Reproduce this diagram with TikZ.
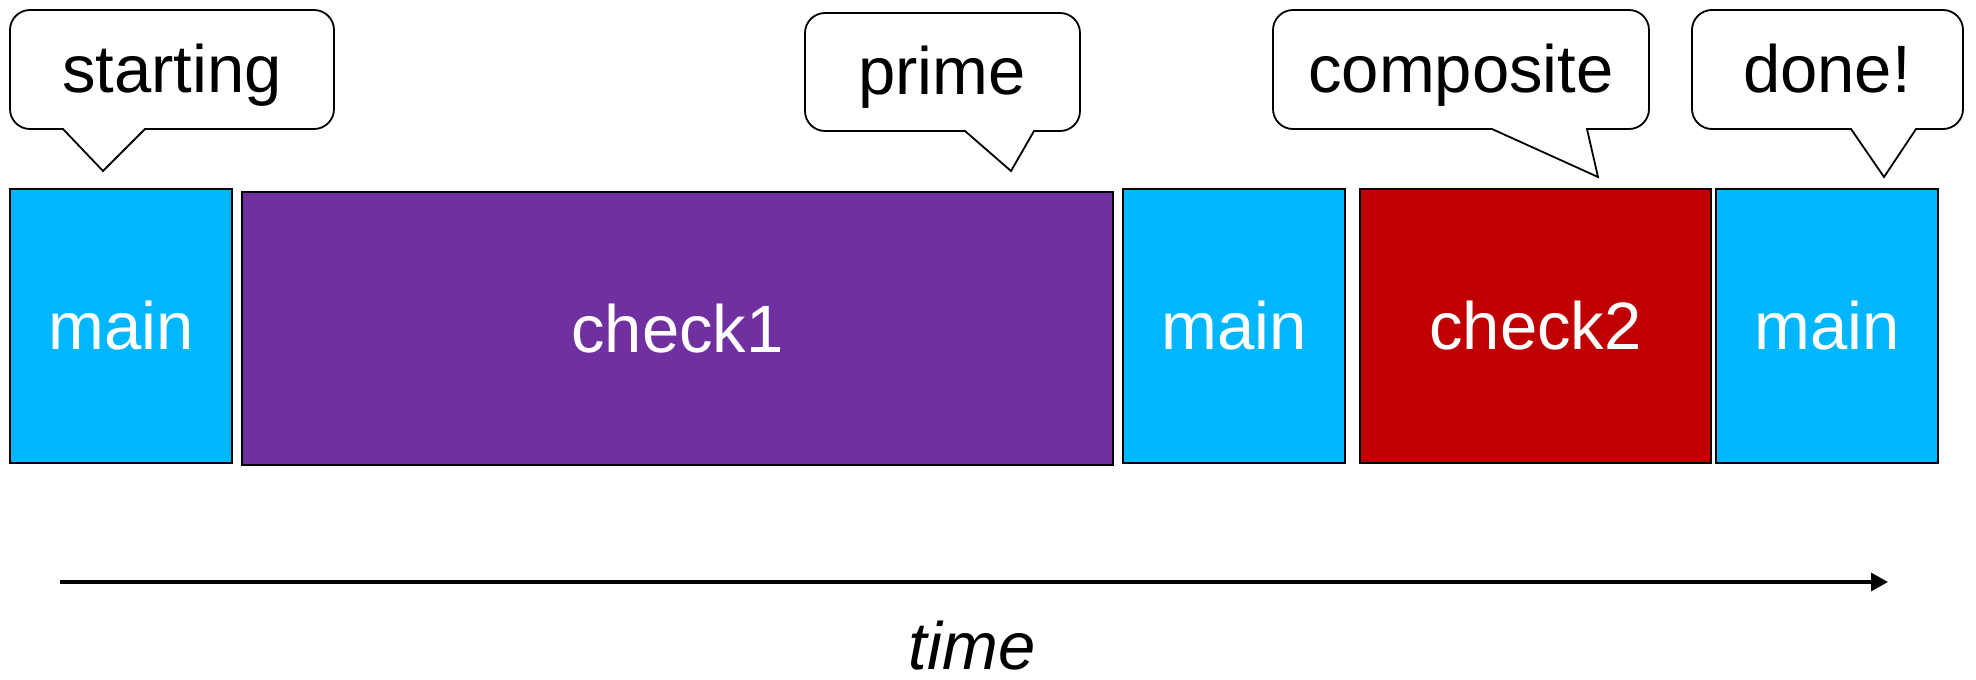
\documentclass[tikz,border=0pt]{standalone}
\usepackage{fontspec}
\setmainfont{Liberation Sans}
\usetikzlibrary{arrows.meta}
\definecolor{mainc}{HTML}{00B7FF}
\definecolor{chkA}{HTML}{7030A0}
\definecolor{chkB}{HTML}{C00000}
\newcommand\bubblepath[8]{%
  \draw[bubble] (#7,-#8) -- (#6,-#4) -- ({#3-20},-#4)
    arc[start angle=270,end angle=360,radius=10pt] -- (#3,{-#2-20})
    arc[start angle=0,end angle=90,radius=10pt] -- ({#1+20},-#2)
    arc[start angle=90,end angle=180,radius=10pt] -- (#1,{-#4+20})
    arc[start angle=180,end angle=270,radius=10pt] -- (#5,-#4) -- cycle;}
\begin{document}
\begin{tikzpicture}[x=0.5pt,y=0.5pt,
  blk/.style={draw=black,line width=1pt,inner sep=0pt,text=white,
    font=\fontsize{33.5}{40}\selectfont},
  bubble/.style={draw=black,line width=0.9pt,fill=white,line join=miter},
  btext/.style={anchor=base,inner sep=0pt,font=\fontsize{33.5}{40}\selectfont},
  timearrow/.style={line width=1.6pt,-{Triangle[length=8.5pt,width=9pt]}}]
\useasboundingbox (0,0) rectangle (1976,-680);
% blocks
\node[blk,fill=mainc,minimum width=111pt,minimum height=137pt] (m1) at (121,-326) {main};
\node[blk,fill=chkA,minimum width=435.5pt,minimum height=136.5pt] (c1) at (677.5,-328.5) {check1};
\node[blk,fill=mainc,minimum width=111pt,minimum height=137pt] (m2) at (1234,-326) {main};
\node[blk,fill=chkB,minimum width=175.5pt,minimum height=137pt] (c2) at (1535.5,-326) {check2};
\node[blk,fill=mainc,minimum width=111pt,minimum height=137pt] (m3) at (1827,-326) {main};
% callouts
\bubblepath{10}{10}{334}{129}{63}{145}{103}{171}
\node[btext] (b1) at (172,-92) {starting};
\bubblepath{805}{13}{1080}{131}{965}{1034}{1011}{171}
\node[btext] (b2) at (942,-94) {prime};
\bubblepath{1273}{10}{1649}{129}{1492}{1587}{1598}{177}
\node[btext] (b3) at (1461,-92) {composite};
\bubblepath{1692}{10}{1963}{129}{1851}{1916}{1884}{177}
\node[btext] (b4) at (1827,-92) {done!};
% time axis
\coordinate (ts) at (60,-582);
\coordinate (te) at (1888,-582);
\draw[timearrow] (ts) -- (te);
\node[btext,font=\fontsize{33.5}{40}\selectfont\itshape] (time) at (972,-669) {time};
\end{tikzpicture}
\end{document}
